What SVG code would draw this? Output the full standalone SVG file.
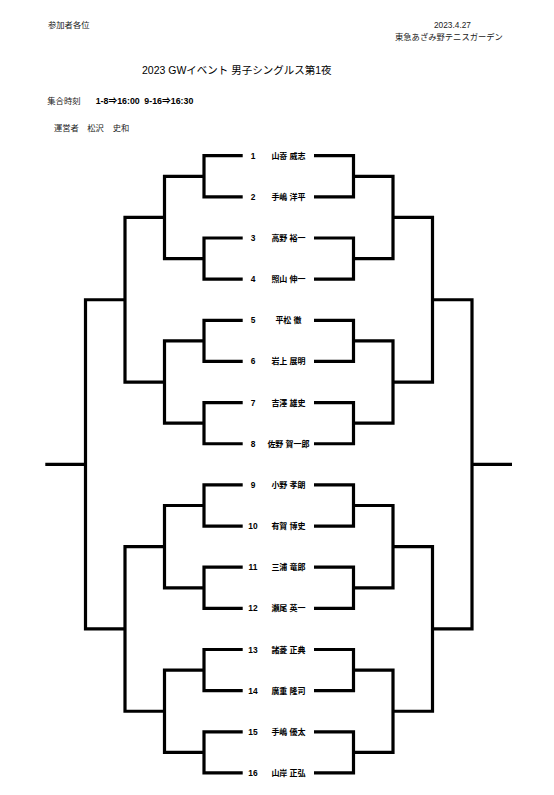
<svg xmlns="http://www.w3.org/2000/svg" width="554" height="795" viewBox="0 0 554 795">
<style>
.hd{font-family:"Liberation Sans","Noto Sans CJK JP",sans-serif;font-size:8.3px;fill:#222}
.ttl{font-family:"Liberation Sans","Noto Sans CJK JP",sans-serif;font-size:10.5px;fill:#000}
.tm{font-family:"Liberation Sans","Noto Sans CJK JP",sans-serif;font-size:9px;font-weight:bold;fill:#000}
.num{font-family:"Liberation Sans",sans-serif;font-size:8.4px;font-weight:bold;fill:#000;text-anchor:middle}
.nm{font-family:"Liberation Sans","Noto Sans CJK JP",sans-serif;font-size:8px;font-weight:bold;fill:#000;text-anchor:middle}
.br{fill:none;stroke:#000;stroke-width:3.2;stroke-linejoin:miter;stroke-linecap:butt}
</style>
<rect width="554" height="795" fill="#fff"/>
<g id="header">
<text class="hd" x="48" y="28">参加者各位</text>
<text class="hd" x="434" y="28">2023.4.27</text>
<text class="hd" x="395" y="39.8">東急あざみ野テニスガーデン</text>
<text class="ttl" x="142" y="73.5">2023 GWイベント 男子シングルス第1夜</text>
<text class="hd" x="47.3" y="103.7">集合時刻</text>
<text class="tm" x="95.7" y="103.8" textLength="44" lengthAdjust="spacingAndGlyphs">1-8⇒16:00</text>
<text class="tm" x="144.3" y="103.8" textLength="49" lengthAdjust="spacingAndGlyphs">9-16⇒16:30</text>
<text class="hd" x="54" y="131.3">運営者</text>
<text class="hd" x="87.3" y="131.3">松沢</text>
<text class="hd" x="112.7" y="131.3">史和</text>
</g>
<g id="connectors">
<path class="br" d="M242.7 155.7H204V196.85H242.7M242.7 238H204V279.15H242.7M242.7 320.3H204V361.45H242.7M242.7 402.6H204V443.75H242.7M242.7 484.9H204V526.05H242.7M242.7 567.2H204V608.35H242.7M242.7 649.5H204V690.65H242.7M242.7 731.8H204V772.95H242.7"/>
<path class="br" d="M314 155.7H353.5V196.85H314M314 238H353.5V279.15H314M314 320.3H353.5V361.45H314M314 402.6H353.5V443.75H314M314 484.9H353.5V526.05H314M314 567.2H353.5V608.35H314M314 649.5H353.5V690.65H314M314 731.8H353.5V772.95H314"/>
<path class="br" d="M204 176.28H164.5V258.58H204M204 340.88H164.5V423.18H204M204 505.48H164.5V587.78H204M204 670.08H164.5V752.38H204"/>
<path class="br" d="M353.5 176.28H393V258.58H353.5M353.5 340.88H393V423.18H353.5M353.5 505.48H393V587.78H353.5M353.5 670.08H393V752.38H353.5"/>
<path class="br" d="M164.5 217.43H125V382.03H164.5M164.5 546.63H125V711.23H164.5"/>
<path class="br" d="M393 217.43H432.5V382.03H393M393 546.63H432.5V711.23H393"/>
<path class="br" d="M125 299.73H85.5V628.93H125M85.5 464.33H45.3"/>
<path class="br" d="M432.5 299.73H472V628.93H432.5M472 464.33H512"/>
</g>
<g id="p1"><text class="num" x="253" y="158.7">1</text><text class="nm" x="288.5" y="158.7">山嵜 威志</text></g>
<g id="p2"><text class="num" x="253" y="199.85">2</text><text class="nm" x="288.5" y="199.85">手嶋 洋平</text></g>
<g id="p3"><text class="num" x="253" y="241">3</text><text class="nm" x="288.5" y="241">高野 裕一</text></g>
<g id="p4"><text class="num" x="253" y="282.15">4</text><text class="nm" x="288.5" y="282.15">照山 伸一</text></g>
<g id="p5"><text class="num" x="253" y="323.3">5</text><text class="nm" x="288.5" y="323.3">平松 徹</text></g>
<g id="p6"><text class="num" x="253" y="364.45">6</text><text class="nm" x="288.5" y="364.45">岩上 展明</text></g>
<g id="p7"><text class="num" x="253" y="405.6">7</text><text class="nm" x="288.5" y="405.6">吉澤 雄史</text></g>
<g id="p8"><text class="num" x="253" y="446.75">8</text><text class="nm" x="288.5" y="446.75">佐野 賀一郎</text></g>
<g id="p9"><text class="num" x="253" y="487.9">9</text><text class="nm" x="288.5" y="487.9">小野 孝朗</text></g>
<g id="p10"><text class="num" x="253" y="529.05">10</text><text class="nm" x="288.5" y="529.05">有賀 博史</text></g>
<g id="p11"><text class="num" x="253" y="570.2">11</text><text class="nm" x="288.5" y="570.2">三浦 竜郎</text></g>
<g id="p12"><text class="num" x="253" y="611.35">12</text><text class="nm" x="288.5" y="611.35">瀬尾 英一</text></g>
<g id="p13"><text class="num" x="253" y="652.5">13</text><text class="nm" x="288.5" y="652.5">諸菱 正典</text></g>
<g id="p14"><text class="num" x="253" y="693.65">14</text><text class="nm" x="288.5" y="693.65">廣重 隆司</text></g>
<g id="p15"><text class="num" x="253" y="734.8">15</text><text class="nm" x="288.5" y="734.8">手嶋 優太</text></g>
<g id="p16"><text class="num" x="253" y="775.95">16</text><text class="nm" x="288.5" y="775.95">山岸 正弘</text></g>
</svg>
